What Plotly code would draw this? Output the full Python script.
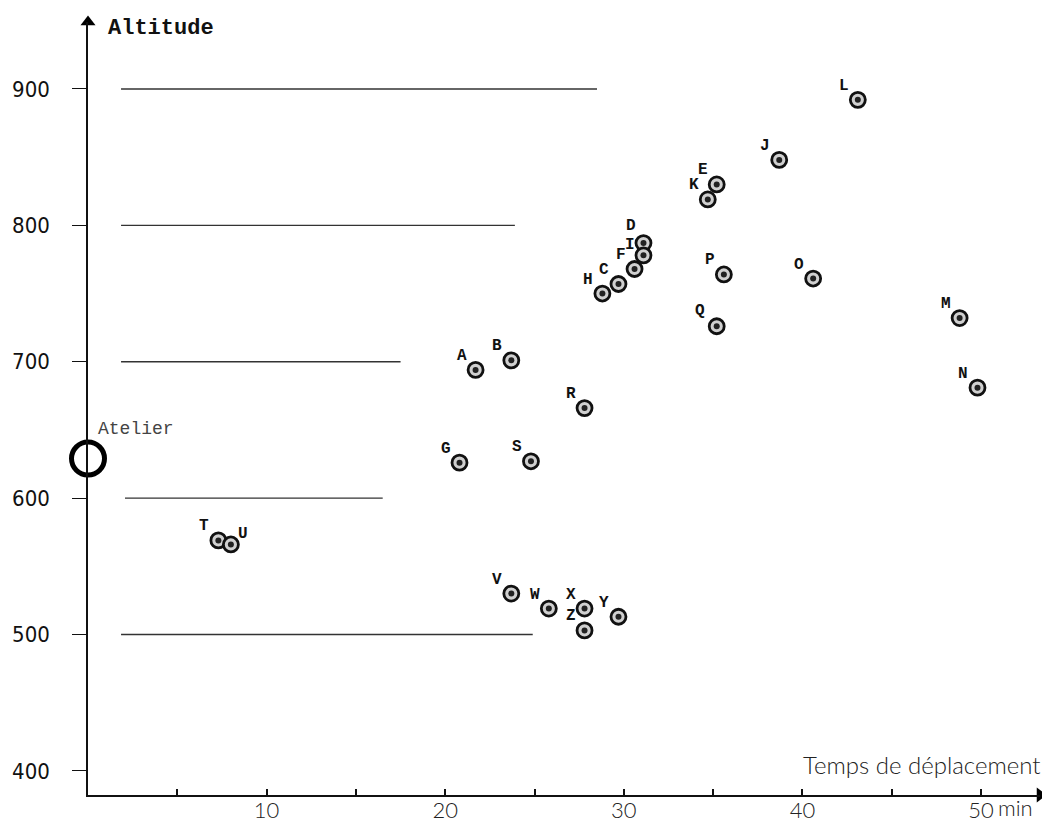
import plotly.graph_objects as go

# ---- data ----
labels = ["A", "B", "C", "D", "E", "F", "G", "H", "I", "J", "K", "L", "M",
          "N", "O", "P", "Q", "R", "S", "T", "U", "V", "W", "X", "Y", "Z"]
temps = [21.7, 23.7, 29.7, 31.1, 35.2, 30.6, 20.8, 28.8, 31.1, 38.7, 34.7, 43.1, 48.8,
         49.8, 40.6, 35.6, 35.2, 27.8, 24.8, 7.3, 8.0, 23.7, 25.8, 27.8, 29.7, 27.8]
altitudes = [694, 701, 757, 787, 830, 768, 626, 750, 778, 848, 819, 892, 732,
             681, 761, 764, 726, 666, 627, 569, 566, 530, 519, 519, 513, 503]

atelier_temps = [0]
atelier_alt = [629]

ref_levels = [900, 800, 700, 600, 500]
ref_start = [1.85, 1.85, 1.85, 2.07, 1.85]
ref_end = [28.5, 23.9, 17.5, 16.5, 24.9]

x_tickvals = [5, 10, 15, 20, 25, 30, 35, 40, 45, 50]
x_ticktext = ["", "10", "", "20", "", "30", "", "40", "", "50"]
y_tickvals = [400, 500, 600, 700, 800, 900]

X_MAX = 53.3
Y_MIN = 382.3
Y_MAX = 949.1

fig = go.Figure()

# reference horizontal lines
for lvl, x0, x1 in zip(ref_levels, ref_start, ref_end):
    fig.add_trace(go.Scatter(x=[x0, x1], y=[lvl, lvl], mode="lines",
                             line=dict(color="#333333", width=1.4),
                             hoverinfo="skip", showlegend=False))

# points: outer ring
fig.add_trace(go.Scatter(x=temps, y=altitudes, mode="markers",
                         marker=dict(size=15, color="#d0d0d0",
                                     line=dict(color="#111111", width=2.8)),
                         showlegend=False, cliponaxis=False))
# points: center
fig.add_trace(go.Scatter(x=temps, y=altitudes, mode="markers",
                         marker=dict(size=6, color="#222222"),
                         showlegend=False, hoverinfo="skip", cliponaxis=False))

# atelier
fig.add_trace(go.Scatter(x=atelier_temps, y=atelier_alt, mode="markers",
                         marker=dict(size=33, symbol="circle-open",
                                     color="#000000", line=dict(width=5)),
                         showlegend=False, cliponaxis=False))

# arrow heads
fig.add_trace(go.Scatter(x=[0], y=[Y_MAX], mode="markers",
                         marker=dict(symbol="triangle-up", size=13, color="#000"),
                         showlegend=False, hoverinfo="skip", cliponaxis=False))
fig.add_trace(go.Scatter(x=[X_MAX], y=[Y_MIN], mode="markers",
                         marker=dict(symbol="triangle-right", size=13, color="#000"),
                         showlegend=False, hoverinfo="skip", cliponaxis=False))

annotations = []
label_shift = {"U": (12, 10), "D": (-12, 17), "I": (-13, 10), "Q": (-17, 15)}
for lab, t, a in zip(labels, temps, altitudes):
    dx, dy = label_shift.get(lab, (-14, 14))
    annotations.append(dict(x=t, y=a, text=lab, showarrow=False,
                            xshift=dx, yshift=dy,
                            font=dict(family="Liberation Mono", size=16,
                                      color="#111", weight="bold")))

annotations.append(dict(x=atelier_temps[0], y=atelier_alt[0], text="Atelier",
                        showarrow=False, xanchor="left", yanchor="middle",
                        xshift=8, yshift=30,
                        font=dict(family="Liberation Mono", size=18, color="#444")))
annotations.append(dict(x=0, y=Y_MAX, text="Altitude", showarrow=False,
                        xanchor="left", yanchor="middle", xshift=18, yshift=-6,
                        font=dict(family="Liberation Mono", size=22,
                                  color="#111", weight="bold")))
annotations.append(dict(x=X_MAX, y=Y_MIN, text="Temps de déplacement",
                        showarrow=False, xanchor="right", yanchor="bottom",
                        xshift=3, yshift=14,
                        font=dict(family="Lato", size=24, color="#222", weight=300)))
annotations.append(dict(x=50, y=Y_MIN, text="min", showarrow=False,
                        xanchor="left", yanchor="top", xshift=15, yshift=3,
                        font=dict(family="Lato", size=22, color="#222", weight=300)))

fig.update_layout(
    width=1050, height=823,
    margin=dict(l=80, r=18, t=14, b=36),
    paper_bgcolor="white", plot_bgcolor="white",
    annotations=annotations,
    xaxis=dict(range=[0, X_MAX], showgrid=False, zeroline=False, automargin=False,
               showline=True, linecolor="#111", linewidth=1.5,
               tickmode="array", tickvals=x_tickvals, ticktext=x_ticktext,
               ticks="inside", ticklen=6, tickwidth=2, tickcolor="#111",
               ticklabelstandoff=-5,
               tickfont=dict(family="Lato", size=22, color="#222", weight=300)),
    yaxis=dict(range=[Y_MIN, Y_MAX], showgrid=False, zeroline=False, automargin=False,
               showline=True, linecolor="#111", linewidth=1.5,
               tickmode="array", tickvals=y_tickvals,
               ticks="outside", ticklen=14, tickwidth=1.2, tickcolor="#111",
               ticklabelstandoff=18,
               tickfont=dict(family="DejaVu Sans Condensed", size=22, color="#111")),
)

fig.write_html("out.html")
